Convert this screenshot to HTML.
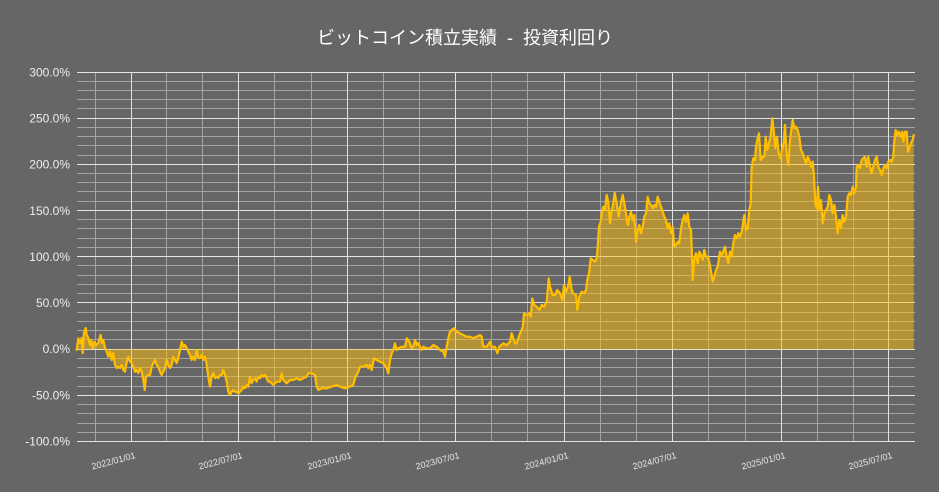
<!DOCTYPE html>
<html>
<head>
<meta charset="utf-8">
<style>
html,body{margin:0;padding:0;background:#666666;}
svg{display:block;}
</style>
</head>
<body>
<svg width="939" height="492" viewBox="0 0 939 492" xmlns="http://www.w3.org/2000/svg">
<rect x="0" y="0" width="939" height="492" fill="#666666"/>
<text x="465" y="44" text-anchor="middle" xml:space="preserve" font-family="'Liberation Sans','Noto Sans CJK JP',sans-serif" font-size="18" fill="#ffffff">ビットコイン積立実績  -  投資利回り</text>

<!-- minor horizontal grid -->
<g stroke="#a4a4a4" stroke-width="1" fill="none">
<path d="M77 81.5H915M77 90.5H915M77 99.5H915M77 108.5H915M77 127.5H915M77 136.5H915M77 145.5H915M77 155.5H915M77 173.5H915M77 182.5H915M77 191.5H915M77 201.5H915M77 219.5H915M77 228.5H915M77 238.5H915M77 247.5H915M77 265.5H915M77 275.5H915M77 284.5H915M77 293.5H915M77 312.5H915M77 321.5H915M77 330.5H915M77 339.5H915M77 358.5H915M77 367.5H915M77 376.5H915M77 386.5H915M77 404.5H915M77 413.5H915M77 423.5H915M77 432.5H915"/>
<path d="M95.5 72V441M166.5 72V441M202.5 72V441M274.5 72V441M311.5 72V441M383.5 72V441M419.5 72V441M491.5 72V441M527.5 72V441M600.5 72V441M636.5 72V441M708.5 72V441M745.5 72V441M817.5 72V441M853.5 72V441"/>
</g>
<!-- major grid -->
<g stroke="#e4e4e4" stroke-width="1" fill="none">
<path d="M77 72.5H915M77 118.5H915M77 164.5H915M77 210.5H915M77 256.5H915M77 302.5H915M77 349.5H915M77 395.5H915M77 441.5H915"/>
<path d="M131.5 72V441M238.5 72V441M347.5 72V441M455.5 72V441M564.5 72V441M672.5 72V441M781.5 72V441M888.5 72V441"/>
</g>

<!-- y labels -->
<g font-family="'Liberation Sans',sans-serif" font-size="12" fill="#eeeeee" text-anchor="end">
<text x="70" y="76.5">300.0%</text>
<text x="70" y="122.6">250.0%</text>
<text x="70" y="168.7">200.0%</text>
<text x="70" y="214.9">150.0%</text>
<text x="70" y="261">100.0%</text>
<text x="70" y="307.1">50.0%</text>
<text x="70" y="353.2">0.0%</text>
<text x="70" y="399.4">-50.0%</text>
<text x="70" y="445.5">-100.0%</text>
</g>

<!-- x labels -->
<g font-family="'Liberation Sans',sans-serif" font-size="9" fill="#e6e6e6" text-anchor="end">
<text transform="translate(136,458) rotate(-15)">2022/01/01</text>
<text transform="translate(243,458) rotate(-15)">2022/07/01</text>
<text transform="translate(352,458) rotate(-15)">2023/01/01</text>
<text transform="translate(460,458) rotate(-15)">2023/07/01</text>
<text transform="translate(569,458) rotate(-15)">2024/01/01</text>
<text transform="translate(677,458) rotate(-15)">2024/07/01</text>
<text transform="translate(786,458) rotate(-15)">2025/01/01</text>
<text transform="translate(893,458) rotate(-15)">2025/07/01</text>
</g>

<defs>
<path id="series" d="M76.7,350 L78.3,338.3 80,343 81.7,338 82.7,353 84,333 85.7,328 86.7,335 88.3,338 90,345 91,340 92.7,348 94,341.7 96,345 98.3,343 100.7,335 102,343 103.3,340 105,348 106.7,351.7 108.3,356.7 110,351.7 111.7,360 113.3,353 115,365 116.7,368 118.3,366.7 120,368 121.7,365 123.3,370 125,371.7 126.7,361.7 128.3,356.7 130,361.7 131.7,363 133.3,366.7 135,371.7 136.7,370 138.3,373 140,368 141.7,371.7 143.3,380 144.7,390 146,376.7 148.3,375 150,375 151.7,366.7 153.3,363 155,360 156.7,365 158.3,366.7 160,371.7 161.7,375 163.3,371.7 165,368 166.7,360 168.3,365 170,368 171.7,365 173.3,356.7 175,360 176.7,363 178.3,358 180,350 181.7,341.7 183.3,346.7 185,345 186.7,348 188.3,351.7 190,355 191.7,360 193.3,356.7 195,360 196.7,350 198.3,358 200,358 201.7,355 203.3,360 205,356.7 206.7,365 208.3,376.7 210,386.7 211.7,376.7 213.3,373 215,378 216.7,376.7 218.3,378 220,375 221.7,375 223.3,370 225,375 226.7,381.7 228.3,391.7 230,395 231.7,391.7 233.3,390 235,391.7 236.7,391.7 238.3,393.3 240,391.7 241.7,390 243.3,386.7 245,388.3 246.7,385 248.3,386.7 250,376.7 251.7,383.3 253.3,380 255,378.3 256.7,381.7 258.3,376.7 260,378.3 261.7,375 263.3,376.7 265,375 266.7,378.3 268.3,381.7 270,381.7 273.3,385 276.7,381.7 280,381.7 281.7,373.3 283.3,380 286.7,383.3 290,380 293.3,380 296.7,378.3 300,380 303.3,378.3 306.7,376.7 308.3,373.3 311.7,373.3 315,375 316.7,386.7 318.3,390 321.7,388.3 326.7,388.3 331.7,386.7 336.7,385 340,386.7 345,388.3 350,386.7 353.3,385 355,378.3 356.7,375 358.3,371.7 360,366.7 363.3,366.7 366.7,365 368.3,368.3 370,365 371.7,370 374,358.3 376.7,360 380,361.7 383.3,363.3 386.7,368.3 388.3,373.3 390,360 391.7,353.3 393.3,350 395,343.3 396.7,350 398.3,348.3 401.7,346.7 405,346.7 406.7,338.3 408.3,340 410,343.3 411.7,348.3 413.3,346.7 415,340 416.7,345 418.3,343.3 420,346.7 421.7,350 423.3,346.7 426.7,348.3 430,348.3 433.3,345 436.7,346.7 440,350 443.3,351.7 445,356.7 446.7,346.7 448.3,338.3 450,331.7 451.7,330 454,328.3 456.7,331.7 460,333.3 463.3,335 466.7,336.7 470,336.7 473.3,338.3 476.7,336.7 480,335 481.7,336.7 483.3,346.7 486.7,346.7 490,341.7 491.7,346.7 495,346.7 497.3,353.3 499.3,346.7 503.3,343.3 506.7,345 510,341.7 511.7,333.3 513.3,338.3 515,343.3 516.7,343.3 518.3,338.3 520,333.3 521.7,330 522.7,326.7 524,313.3 526.7,315 529.3,313.3 530.7,316.7 532.3,298.3 534.3,305 536.7,306.7 539.3,310 541.7,305 544,306.7 546.7,301.7 548.7,278.3 550,286.7 552.7,295 555,295 557.3,290 560,293.3 562.3,300 564,285 566,291.7 568,286.7 569.7,276.7 571.7,290 573.3,293.3 576,295 577.3,310 579.3,296.7 581.7,291.7 584,293.3 586,290 587.3,280 589.3,271.7 590.7,258.3 592.7,260 595,261.7 596.7,258.3 597.7,246.7 599,226.7 600.7,221.7 601.7,213.3 603.3,206.7 605,210 606.7,195 608.3,201.7 610,223.3 611.7,210 613.3,203.3 614.7,192.7 616.7,203.3 618.7,216.7 620.7,203.3 622.7,195 624.3,203.3 626,213.3 627.7,225 629.3,216.7 631,211.7 632.7,220 634.3,215 636,241.7 637.7,230 639.3,225 641,233.3 642.7,226.7 644.3,216.7 646,213.3 647.7,196.7 649.3,203.3 651,205 652.7,208.3 654.3,205 656,206.7 657.7,196.7 659.3,201.7 661,206.7 662.7,211.7 664.3,216.7 666,220 667.7,228.3 669.3,223.3 671,233.3 672.7,226.7 674.3,246.7 676,245 677.7,241.7 679.3,243.3 681,228.3 682.7,220 684.3,215 686,221.7 687.7,213.3 689.3,226.7 691,230 692,256.7 692.7,280 694.3,260 696,253.3 697.7,263.3 699.3,251.7 701,255 702.7,260 704.3,250 706,256.7 707.7,256.7 709.3,261.7 711,271.7 712.7,281.7 714.3,276.7 716,270 717.7,266.7 720,251.7 721.7,255 723.3,251.7 725,246.7 726.7,256.7 728.3,263.3 730,251.7 731.7,256.7 733.3,243.3 735,235 736.7,238.3 738.3,233.3 740,236.7 741.7,231.7 743.3,221.7 744.3,215 746,230 747.7,228.3 749.3,210 750.7,203.3 751.7,166.7 753.3,158.3 755,160 756,146.7 757.3,140 759,133.3 760.7,160 762.7,156.7 764.3,156.7 765.7,136.7 767.3,150 769,143.3 770.7,135 772.3,118.3 774,133.3 775.3,148.3 777,136.7 778.7,153.3 780.3,158.3 782,150 783.7,143.3 785,125 786.7,155 788.3,165 790,140 791.7,126.7 792.7,120 794.3,128.3 796,126.7 797.7,130 799.3,136.7 801,150 802.7,153.3 804.3,158.3 806,163.3 807.7,156.7 809.3,160 811,166.7 812.7,161.7 814,176.7 815.3,203.3 816.7,208.3 818,186.7 819.3,210 821,200 822.7,223.3 824.3,213.3 826,210 827.7,206.7 829.3,195 831,200 832.7,213.3 834.3,205 836,216.7 837.7,233.3 839.3,220 841,228.3 842.7,215 844.3,221.7 846,216.7 847.7,196.7 849.3,193.3 851,195 852.7,186.7 854.3,193.3 856,186.7 856.7,166.7 858.3,165 860,168.3 861.7,160 863.3,158.3 865,156.7 866.7,166.7 868.3,156.7 870,166.7 871.7,173.3 873.3,166.7 875,160 876.7,156.7 878.3,166.7 880,170 881.7,175 883.3,168.3 885,165 886.7,168.3 888.3,161.7 890,160 891.7,161.7 893.3,156.7 894.3,141.7 895.7,130 897.3,135 899,131.7 900.7,136.7 902.3,131.7 903.3,141.7 905,131.7 906.7,131.7 908,151.7 909.3,148.3 911,143.3 912.7,140 913.7,135"/>
</defs>

<!-- fill to zero -->
<path d="M76.7,349.25 L76.7,350 78.3,338.3 80,343 81.7,338 82.7,353 84,333 85.7,328 86.7,335 88.3,338 90,345 91,340 92.7,348 94,341.7 96,345 98.3,343 100.7,335 102,343 103.3,340 105,348 106.7,351.7 108.3,356.7 110,351.7 111.7,360 113.3,353 115,365 116.7,368 118.3,366.7 120,368 121.7,365 123.3,370 125,371.7 126.7,361.7 128.3,356.7 130,361.7 131.7,363 133.3,366.7 135,371.7 136.7,370 138.3,373 140,368 141.7,371.7 143.3,380 144.7,390 146,376.7 148.3,375 150,375 151.7,366.7 153.3,363 155,360 156.7,365 158.3,366.7 160,371.7 161.7,375 163.3,371.7 165,368 166.7,360 168.3,365 170,368 171.7,365 173.3,356.7 175,360 176.7,363 178.3,358 180,350 181.7,341.7 183.3,346.7 185,345 186.7,348 188.3,351.7 190,355 191.7,360 193.3,356.7 195,360 196.7,350 198.3,358 200,358 201.7,355 203.3,360 205,356.7 206.7,365 208.3,376.7 210,386.7 211.7,376.7 213.3,373 215,378 216.7,376.7 218.3,378 220,375 221.7,375 223.3,370 225,375 226.7,381.7 228.3,391.7 230,395 231.7,391.7 233.3,390 235,391.7 236.7,391.7 238.3,393.3 240,391.7 241.7,390 243.3,386.7 245,388.3 246.7,385 248.3,386.7 250,376.7 251.7,383.3 253.3,380 255,378.3 256.7,381.7 258.3,376.7 260,378.3 261.7,375 263.3,376.7 265,375 266.7,378.3 268.3,381.7 270,381.7 273.3,385 276.7,381.7 280,381.7 281.7,373.3 283.3,380 286.7,383.3 290,380 293.3,380 296.7,378.3 300,380 303.3,378.3 306.7,376.7 308.3,373.3 311.7,373.3 315,375 316.7,386.7 318.3,390 321.7,388.3 326.7,388.3 331.7,386.7 336.7,385 340,386.7 345,388.3 350,386.7 353.3,385 355,378.3 356.7,375 358.3,371.7 360,366.7 363.3,366.7 366.7,365 368.3,368.3 370,365 371.7,370 374,358.3 376.7,360 380,361.7 383.3,363.3 386.7,368.3 388.3,373.3 390,360 391.7,353.3 393.3,350 395,343.3 396.7,350 398.3,348.3 401.7,346.7 405,346.7 406.7,338.3 408.3,340 410,343.3 411.7,348.3 413.3,346.7 415,340 416.7,345 418.3,343.3 420,346.7 421.7,350 423.3,346.7 426.7,348.3 430,348.3 433.3,345 436.7,346.7 440,350 443.3,351.7 445,356.7 446.7,346.7 448.3,338.3 450,331.7 451.7,330 454,328.3 456.7,331.7 460,333.3 463.3,335 466.7,336.7 470,336.7 473.3,338.3 476.7,336.7 480,335 481.7,336.7 483.3,346.7 486.7,346.7 490,341.7 491.7,346.7 495,346.7 497.3,353.3 499.3,346.7 503.3,343.3 506.7,345 510,341.7 511.7,333.3 513.3,338.3 515,343.3 516.7,343.3 518.3,338.3 520,333.3 521.7,330 522.7,326.7 524,313.3 526.7,315 529.3,313.3 530.7,316.7 532.3,298.3 534.3,305 536.7,306.7 539.3,310 541.7,305 544,306.7 546.7,301.7 548.7,278.3 550,286.7 552.7,295 555,295 557.3,290 560,293.3 562.3,300 564,285 566,291.7 568,286.7 569.7,276.7 571.7,290 573.3,293.3 576,295 577.3,310 579.3,296.7 581.7,291.7 584,293.3 586,290 587.3,280 589.3,271.7 590.7,258.3 592.7,260 595,261.7 596.7,258.3 597.7,246.7 599,226.7 600.7,221.7 601.7,213.3 603.3,206.7 605,210 606.7,195 608.3,201.7 610,223.3 611.7,210 613.3,203.3 614.7,192.7 616.7,203.3 618.7,216.7 620.7,203.3 622.7,195 624.3,203.3 626,213.3 627.7,225 629.3,216.7 631,211.7 632.7,220 634.3,215 636,241.7 637.7,230 639.3,225 641,233.3 642.7,226.7 644.3,216.7 646,213.3 647.7,196.7 649.3,203.3 651,205 652.7,208.3 654.3,205 656,206.7 657.7,196.7 659.3,201.7 661,206.7 662.7,211.7 664.3,216.7 666,220 667.7,228.3 669.3,223.3 671,233.3 672.7,226.7 674.3,246.7 676,245 677.7,241.7 679.3,243.3 681,228.3 682.7,220 684.3,215 686,221.7 687.7,213.3 689.3,226.7 691,230 692,256.7 692.7,280 694.3,260 696,253.3 697.7,263.3 699.3,251.7 701,255 702.7,260 704.3,250 706,256.7 707.7,256.7 709.3,261.7 711,271.7 712.7,281.7 714.3,276.7 716,270 717.7,266.7 720,251.7 721.7,255 723.3,251.7 725,246.7 726.7,256.7 728.3,263.3 730,251.7 731.7,256.7 733.3,243.3 735,235 736.7,238.3 738.3,233.3 740,236.7 741.7,231.7 743.3,221.7 744.3,215 746,230 747.7,228.3 749.3,210 750.7,203.3 751.7,166.7 753.3,158.3 755,160 756,146.7 757.3,140 759,133.3 760.7,160 762.7,156.7 764.3,156.7 765.7,136.7 767.3,150 769,143.3 770.7,135 772.3,118.3 774,133.3 775.3,148.3 777,136.7 778.7,153.3 780.3,158.3 782,150 783.7,143.3 785,125 786.7,155 788.3,165 790,140 791.7,126.7 792.7,120 794.3,128.3 796,126.7 797.7,130 799.3,136.7 801,150 802.7,153.3 804.3,158.3 806,163.3 807.7,156.7 809.3,160 811,166.7 812.7,161.7 814,176.7 815.3,203.3 816.7,208.3 818,186.7 819.3,210 821,200 822.7,223.3 824.3,213.3 826,210 827.7,206.7 829.3,195 831,200 832.7,213.3 834.3,205 836,216.7 837.7,233.3 839.3,220 841,228.3 842.7,215 844.3,221.7 846,216.7 847.7,196.7 849.3,193.3 851,195 852.7,186.7 854.3,193.3 856,186.7 856.7,166.7 858.3,165 860,168.3 861.7,160 863.3,158.3 865,156.7 866.7,166.7 868.3,156.7 870,166.7 871.7,173.3 873.3,166.7 875,160 876.7,156.7 878.3,166.7 880,170 881.7,175 883.3,168.3 885,165 886.7,168.3 888.3,161.7 890,160 891.7,161.7 893.3,156.7 894.3,141.7 895.7,130 897.3,135 899,131.7 900.7,136.7 902.3,131.7 903.3,141.7 905,131.7 906.7,131.7 908,151.7 909.3,148.3 911,143.3 912.7,140 913.7,135 L913.7,349.25 Z" fill="rgba(255,190,10,0.5)" stroke="none"/>

<use href="#series" fill="none" stroke="#ffbf00" stroke-width="2.2" stroke-linejoin="round" stroke-linecap="round"/>
</svg>
</body>
</html>
